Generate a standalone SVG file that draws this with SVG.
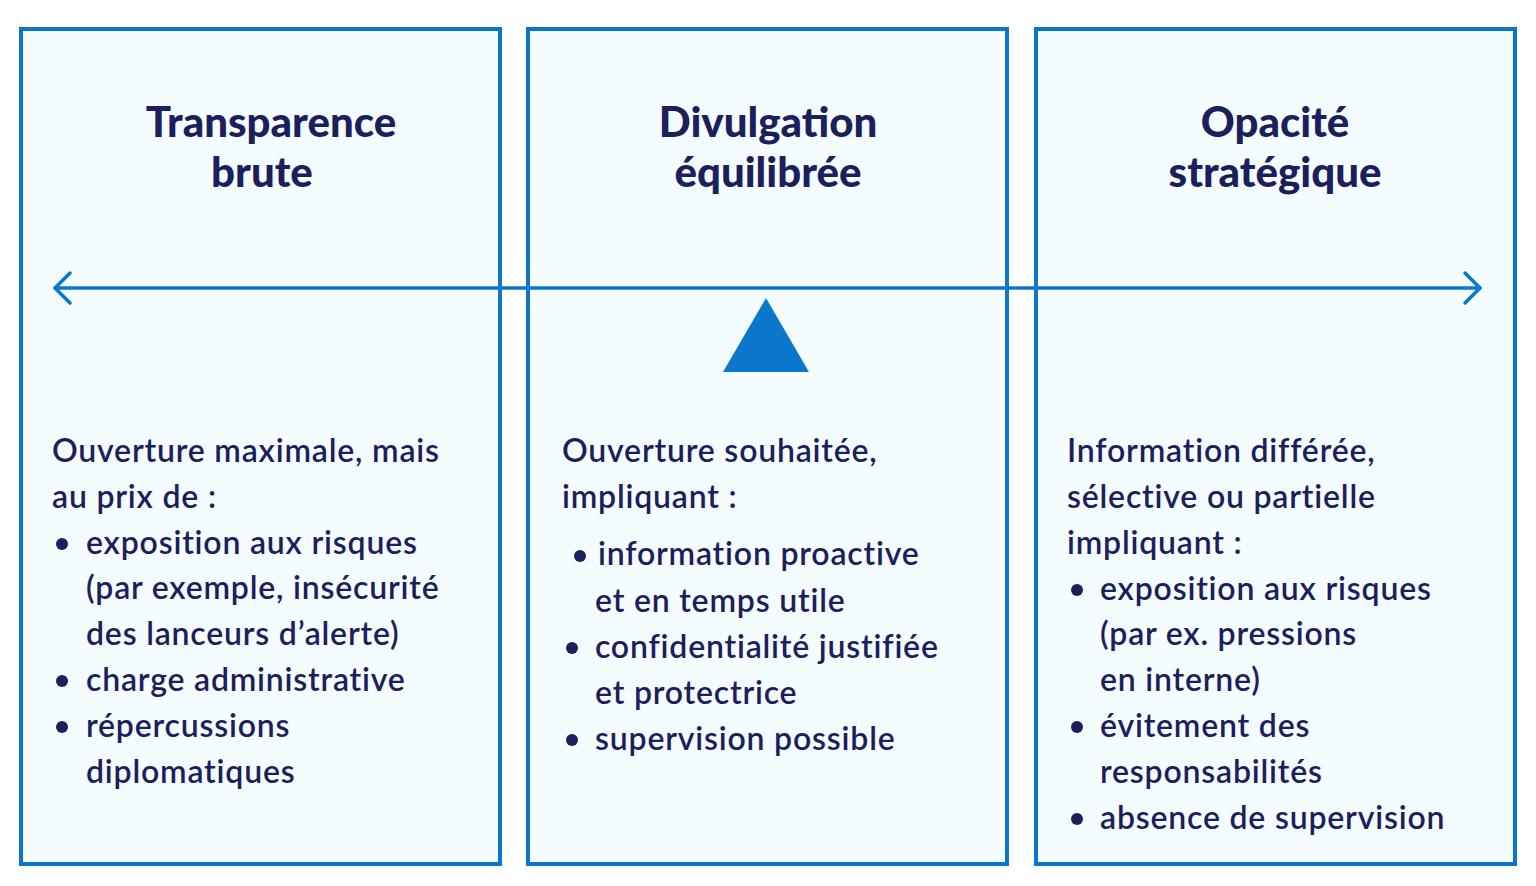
<svg xmlns="http://www.w3.org/2000/svg" width="1536" height="886" viewBox="0 0 1536 886">
<style>
.box{fill:#f5fcff;stroke:#0a76cc;stroke-width:4}
.t{font-family:Lato,"Liberation Sans",sans-serif;font-weight:900;font-size:42px;fill:#1b1f5c;text-anchor:middle}
.b{font-family:Lato,"Liberation Sans",sans-serif;font-weight:600;font-size:32px;letter-spacing:0.8px;fill:#1b1f5c}
.dot{fill:#1b1f5c}
</style>
<rect width="1536" height="886" fill="#ffffff"/>
<g id="box1"><rect class="box" x="21" y="29" width="479" height="835"/>
<text class="t" x="271" y="137">Transparence</text><text class="t" x="262" y="187">brute</text>
<text class="b" x="52" y="462">Ouverture maximale, mais</text>
<text class="b" x="52" y="508">au prix de :</text>
<circle class="dot" cx="62" cy="544" r="6"/><text class="b" x="86" y="554">exposition aux risques</text>
<text class="b" x="86" y="599">(par exemple, insécurité</text>
<text class="b" x="86" y="645">des lanceurs d’alerte)</text>
<circle class="dot" cx="62" cy="681" r="6"/><text class="b" x="86" y="691">charge administrative</text>
<circle class="dot" cx="62" cy="727" r="6"/><text class="b" x="86" y="737">répercussions</text>
<text class="b" x="86" y="783">diplomatiques</text></g>
<g id="box2"><rect class="box" x="528" y="29" width="479" height="835"/>
<text class="t" x="768" y="137">Divulgation</text><text class="t" x="768" y="187">équilibrée</text>
<text class="b" x="562" y="462">Ouverture souhaitée,</text>
<text class="b" x="562" y="508">impliquant :</text>
<circle class="dot" cx="580" cy="556" r="6"/><text class="b" x="598" y="565">information proactive</text>
<text class="b" x="595" y="612">et en temps utile</text>
<circle class="dot" cx="572" cy="648" r="6"/><text class="b" x="595" y="658">confidentialité justifiée</text>
<text class="b" x="595" y="704">et protectrice</text>
<circle class="dot" cx="572" cy="740" r="6"/><text class="b" x="595" y="750">supervision possible</text></g>
<g id="box3"><rect class="box" x="1036" y="29" width="479" height="835"/>
<text class="t" x="1275" y="137">Opacité</text><text class="t" x="1275" y="187">stratégique</text>
<text class="b" x="1067" y="462">Information différée,</text>
<text class="b" x="1067" y="508">sélective ou partielle</text>
<text class="b" x="1067" y="554">impliquant :</text>
<circle class="dot" cx="1077" cy="590" r="6"/><text class="b" x="1100" y="600">exposition aux risques</text>
<text class="b" x="1100" y="645">(par ex. pressions</text>
<text class="b" x="1100" y="691">en interne)</text>
<circle class="dot" cx="1077" cy="727" r="6"/><text class="b" x="1100" y="737">évitement des</text>
<text class="b" x="1100" y="783">responsabilités</text>
<circle class="dot" cx="1077" cy="819" r="6"/><text class="b" x="1100" y="829">absence de supervision</text></g>
<g id="connectors" fill="none" stroke="#0a76cc" stroke-width="3.5" stroke-linecap="round" stroke-linejoin="round">
<line x1="55" y1="288" x2="1480" y2="288"/>
<polyline points="70,273 55,288 70,303"/>
<polyline points="1465,273 1480,288 1465,303"/>
</g>
<g id="fulcrum"><polygon points="723,372 809,372 766,298" fill="#0a76cc"/></g>
</svg>
